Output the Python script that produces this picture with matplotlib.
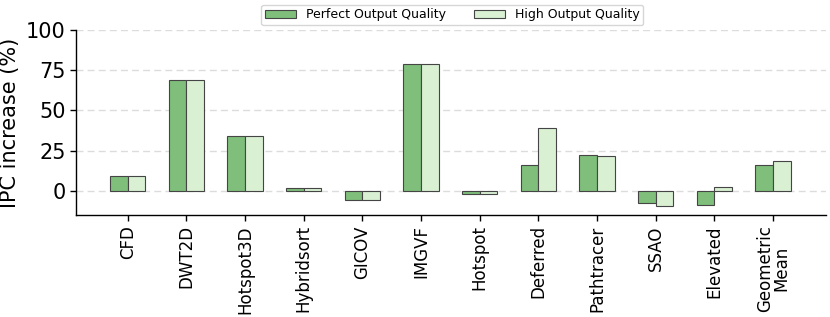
import matplotlib
matplotlib.use("Agg")
import matplotlib.pyplot as plt
import numpy as np

categories = ["CFD", "DWT2D", "Hotspot3D", "Hybridsort", "GICOV", "IMGVF",
              "Hotspot", "Deferred", "Pathtracer", "SSAO", "Elevated",
              "Geometric\nMean"]
perfect = [9.0, 69.0, 34.4, 1.9, -5.6, 79.0, -1.9, 16.0, 22.6, -7.7, -9.1, 16.0]
high = [9.0, 69.0, 34.4, 1.9, -5.6, 79.0, -1.9, 39.3, 21.5, -9.7, 2.3, 18.6]
series_names = ["Perfect Output Quality", "High Output Quality"]
yticks = [0, 25, 50, 75, 100]

fig = plt.figure(figsize=(8.3, 3.17), dpi=100)
ax = fig.add_axes([0.0916, 0.322, 0.9034, 0.583])

x = np.arange(len(categories))
w = 0.3
b1 = ax.bar(x - w / 2, perfect, w, color="#7fbf7b", edgecolor="#454545",
            linewidth=0.8, label=series_names[0], zorder=3)
b2 = ax.bar(x + w / 2, high, w, color="#d9f0d3", edgecolor="#454545",
            linewidth=0.8, label=series_names[1], zorder=3)

ax.set_xlim(-0.88, 11.9)
ax.set_ylim(-15, 100)
ax.set_yticks(yticks)
ax.set_yticklabels([str(t) for t in yticks], fontsize=15)
ax.set_xticks(x)
ax.set_xticklabels(categories, rotation=90, fontsize=12, linespacing=0.9)
ax.set_ylabel("IPC increase (%)", fontsize=15)
ax.yaxis.grid(True, linestyle=(0, (5, 3)), color="#dcdcdc", linewidth=1.0, zorder=0)
ax.set_axisbelow(True)
for s in ["top", "right"]:
    ax.spines[s].set_visible(False)
ax.spines["left"].set_bounds(-15, 100)
ax.spines["left"].set_linewidth(1.0)
ax.spines["bottom"].set_linewidth(1.0)
ax.tick_params(axis="both", length=4, width=1.0)

fig.legend(handles=[b1, b2], labels=series_names, loc="upper center",
           bbox_to_anchor=(0.545, 1.005), ncol=2, fontsize=9, frameon=True,
           handlelength=2.5, columnspacing=2.2, borderpad=0.3, fancybox=True)

fig.savefig("out.png", dpi=100)
